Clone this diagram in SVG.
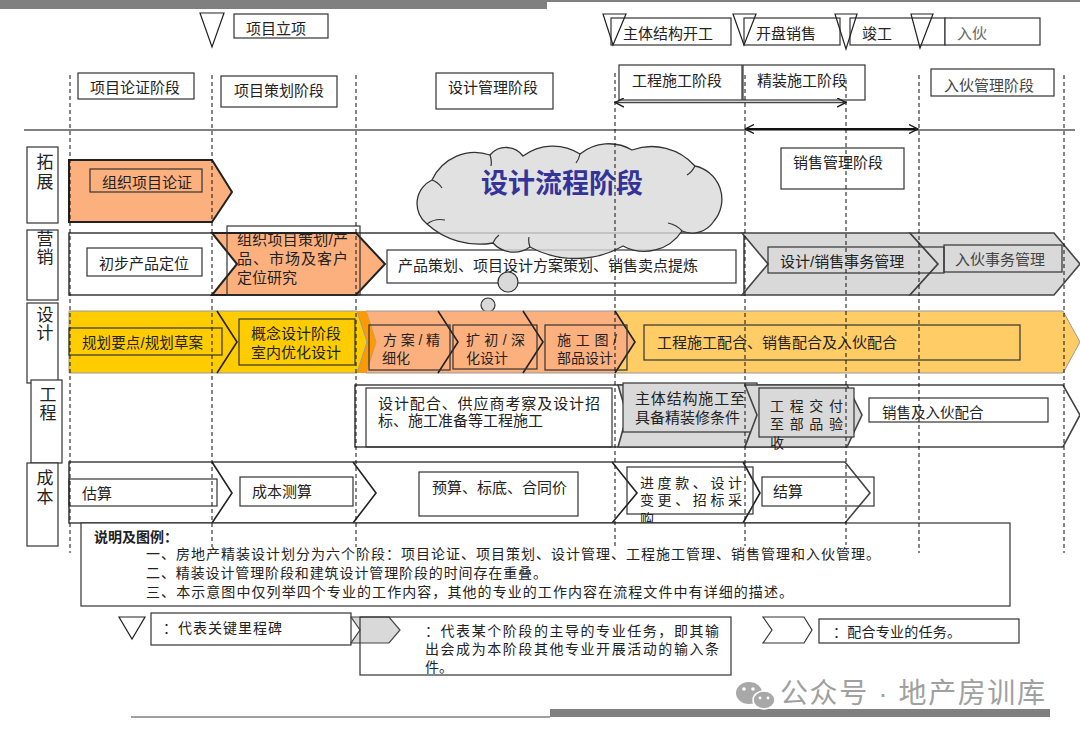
<svg xmlns="http://www.w3.org/2000/svg" width="1080" height="742" viewBox="0 0 1080 742">
<defs>
<style>
text{font-family:"Liberation Sans","Noto Sans CJK SC",sans-serif;font-size:15px;fill:#222}
.s14{font-size:14px}
.box{fill:#fff;stroke:#333;stroke-width:1.2}
.nobox{fill:none;stroke:#333;stroke-width:1.2}
.gbox{fill:#D9D9D9;stroke:#333;stroke-width:1.2}
.tri{fill:none;stroke:#222;stroke-width:1.2}
.dash{stroke:#111;stroke-width:1;stroke-dasharray:4 3;fill:none}
.band{fill:#fff;stroke:#444;stroke-width:1.6}
.div{fill:none;stroke:#222;stroke-width:1.6}
.lab{font-size:17px;text-anchor:middle}
.org{fill:#FCB07E;stroke:#222;stroke-width:2}
.grey{fill:#D9D9D9;stroke:#444;stroke-width:1.6}
</style>
<marker id="ah" viewBox="0 0 10 10" refX="9" refY="5" markerWidth="10" markerHeight="10" orient="auto-start-reverse" markerUnits="userSpaceOnUse"><path d="M0,0.5 L9,5 L0,9.5" fill="none" stroke="#222" stroke-width="1.4"/></marker>
</defs>
<rect width="1080" height="742" fill="#fff"/>
<g id="frame">
<rect x="0" y="0" width="547" height="9" fill="#808080"/>
<rect x="547" y="0" width="533" height="2" fill="#808080"/>
<line x1="131" y1="717" x2="550" y2="717" stroke="#808080" stroke-width="1.5"/>
<rect x="550" y="709" width="500" height="8" fill="#808080"/>
<line x1="24" y1="130" x2="1075" y2="130" stroke="#808080" stroke-width="2"/>
</g>

<g id="milestones">
<g id="m1"><rect class="box" x="234" y="14" width="94" height="24"/><text x="246" y="34">项目立项</text><polygon class="tri" points="200,13 224,13 212,47"/></g>
<g id="m2"><rect class="box" x="611" y="18" width="120" height="27"/><text x="623" y="39">主体结构开工</text><polygon class="tri" points="603,14 626,14 613,45"/></g>
<g id="m3"><rect class="box" x="744" y="18" width="96" height="27"/><text x="756" y="39">开盘销售</text><polygon class="tri" points="733,14 756,14 744,45"/></g>
<g id="m4"><rect class="box" x="850" y="18" width="95" height="27"/><text x="862" y="39">竣工</text><polygon class="tri" points="835,14 857,14 846,49"/></g>
<g id="m5"><rect class="box" x="945" y="18" width="95" height="27"/><text x="957" y="39" style="fill:#666">入伙</text><polygon class="tri" points="911,14 933,14 920,48"/></g>
</g>

<g id="phases">
<g id="p1"><rect class="box" x="78" y="73" width="116" height="26"/><text x="90" y="93">项目论证阶段</text></g>
<g id="p2"><rect class="box" x="221" y="76" width="116" height="31"/><text x="234" y="96">项目策划阶段</text></g>
<g id="p3"><rect class="box" x="436" y="73" width="117" height="36"/><text x="448" y="93">设计管理阶段</text></g>
<g id="p4"><rect class="box" x="619" y="65" width="123" height="35"/><text x="632" y="86">工程施工阶段</text></g>
<g id="p5"><rect class="box" x="743" y="65" width="122" height="35"/><text x="757" y="86">精装施工阶段</text></g>
<g id="p6"><rect class="box" x="931" y="69" width="123" height="27"/><text x="944" y="91" style="fill:#444">入伙管理阶段</text></g>
<g id="p7"><rect class="box" x="781" y="148" width="123" height="41"/><text x="793" y="168">销售管理阶段</text></g>
</g>

<g id="connectors">
<line x1="615" y1="102.5" x2="846" y2="102.5" stroke="#444" stroke-width="1.5" marker-start="url(#ah)" marker-end="url(#ah)"/>
<line x1="745" y1="129" x2="918" y2="129" stroke="#111" stroke-width="2" marker-start="url(#ah)" marker-end="url(#ah)"/>
</g>

<g id="labels">
<g id="l1"><rect class="box" x="27" y="147" width="31" height="76"/><text class="lab" x="45" y="168">拓</text><text class="lab" x="45" y="188">展</text></g>
<g id="l2"><rect class="box" x="27" y="230" width="31" height="70"/><text class="lab" x="45" y="245">营</text><text class="lab" x="45" y="263">销</text></g>
<g id="l3"><rect class="box" x="27" y="303" width="31" height="80"/><text class="lab" x="45" y="321">设</text><text class="lab" x="45" y="339">计</text></g>
<g id="l4"><rect class="box" x="31" y="380" width="31" height="83"/><text class="lab" x="48" y="401">工</text><text class="lab" x="48" y="419">程</text></g>
<g id="l5"><rect class="box" x="27" y="463" width="31" height="83"/><text class="lab" x="45" y="484">成</text><text class="lab" x="45" y="503">本</text></g>
</g>

<g id="row-tuozhan">
<polygon class="org" points="69,160 212,160 232,192 212,222 69,222"/>
<rect class="nobox" x="90" y="169" width="112" height="23"/>
<text x="102" y="187.5">组织项目论证</text>
</g>

<g id="row-yingxiao">
<rect class="band" x="69" y="233" width="675" height="62"/>
<rect class="nobox" x="87" y="248" width="115" height="28"/>
<text x="99" y="268.5">初步产品定位</text>
<polygon class="org" points="212,233 356,233 385,264 356,295 212,295 237,264"/>
<rect class="nobox" x="227" y="226" width="133" height="69"/>
<text x="237" y="245" textLength="111">组织项目策划/产</text>
<text x="237" y="264" textLength="111">品、市场及客户</text>
<text x="237" y="283">定位研究</text>
<rect class="box" x="387" y="250" width="349" height="33"/>
<text x="398" y="270.5">产品策划、项目设计方案策划、销售卖点提炼</text>
<polygon class="grey" points="742,233 910,233 938,264 910,295 742,295 768,264"/>
<polygon class="grey" points="910,233 1054,233 1080,264 1054,295 910,295 938,264"/>
<rect class="nobox" x="768" y="247" width="176" height="26"/>
<text x="780" y="266.5">设计/销售事务管理</text>
<rect class="nobox" x="944" y="245" width="118" height="27"/>
<text x="955" y="264.5" style="fill:#444">入伙事务管理</text>
</g>

<g id="cloud">
<path d="M427,224 A26,26 0 0 1 432,180 A47,47 0 0 1 490,155 A21,21 0 0 1 523,156 A50,50 0 0 1 580,154 A46,46 0 0 1 632,150 A58,58 0 0 1 695,166 A34,34 0 0 1 714,221 A26,26 0 0 1 682,231 A45,45 0 0 1 623,246 A96,96 0 0 1 530,247 A28,28 0 0 1 493,243 A78,78 0 0 1 427,224 Z" fill="#D9D9D9" fill-opacity="0.8" stroke="#333" stroke-width="1.3"/>
<path d="M432,180 q6,2 10,8 M490,155 q2,6 1,11 M580,154 q-1,5 -4,9 M695,166 q-3,6 -8,9 M682,231 q-5,-6 -14,-8 M530,247 q-2,-5 -1,-10 M493,243 q2,-5 6,-8 M427,224 q8,-6 18,-4" fill="none" stroke="#333" stroke-width="1.2"/>
<text x="562" y="193" text-anchor="middle" style="font-size:27px;font-weight:bold;fill:#333399">设计流程阶段</text>
<circle cx="508" cy="282" r="10" fill="#D9D9D9" stroke="#333" stroke-width="1.2"/>
<circle cx="488" cy="305" r="7" fill="#D9D9D9" stroke="#333" stroke-width="1.2"/>
<circle cx="472" cy="325" r="3" fill="#D9D9D9" stroke="#333" stroke-width="1.2"/>
</g>

<g id="row-sheji">
<polygon points="615,311 1063,311 1080,342 1063,373 615,373 635,342" fill="#FFCC66" stroke="#999" stroke-width="1"/>
<polygon points="366,311 615,311 635,342 615,373 366,373 376,342" fill="#FCB07E" stroke="#999" stroke-width="1"/>
<polygon points="357,311 366,311 376,342 366,373 357,373 367,342" fill="#FF9900"/>
<polygon points="69,311 357,311 367,342 357,373 69,373" fill="#FFCC00" stroke="#999" stroke-width="1"/>
<polyline class="div" points="217,311 237,342 217,373"/>
<polyline class="div" points="438,311 458,342 438,373"/>
<polyline class="div" points="523,311 543,342 523,373"/>
<polyline class="div" points="615,311 635,342 615,373"/>
<rect class="nobox" x="69" y="328" width="153" height="27"/>
<text x="82" y="347.5" style="font-size:14.5px" textLength="121">规划要点/规划草案</text>
<rect class="nobox" x="239" y="319" width="116" height="46"/>
<text x="251" y="338.5">概念设计阶段</text>
<text x="251" y="357.5">室内优化设计</text>
<rect class="nobox" x="369" y="325" width="81" height="45"/>
<text class="s14" x="383" y="345" textLength="57">方案/精</text>
<text class="s14" x="382" y="363">细化</text>
<rect class="nobox" x="453" y="325" width="84" height="44"/>
<text class="s14" x="466" y="345" textLength="59">扩初/深</text>
<text class="s14" x="466" y="363">化设计</text>
<rect class="nobox" x="545" y="325" width="82" height="45"/>
<text class="s14" x="557" y="345" textLength="60">施工图/</text>
<text class="s14" x="557" y="363">部品设计</text>
<rect class="nobox" x="644" y="325" width="376" height="35"/>
<text x="657" y="347.5">工程施工配合、销售配合及入伙配合</text>
</g>

<g id="row-gongcheng">
<polygon class="band" points="355,385 1063,385 1080,415 1063,447 355,447"/>
<rect class="nobox" x="366" y="388" width="246" height="59"/>
<text x="378" y="408.5" textLength="222">设计配合、供应商考察及设计招</text>
<text x="378" y="426">标、施工准备等工程施工</text>
<polygon class="grey" points="618,385 745,385 757,415 745,447 618,447 627,415"/>
<rect class="gbox" x="623" y="383" width="134" height="49"/>
<text x="635" y="403.5" textLength="110">主体结构施工至</text>
<text x="635" y="422.5" textLength="105">具备精装修条件</text>
<polygon class="grey" points="745,385 847,385 862,415 847,447 745,447 757,415"/>
<rect class="gbox" x="759" y="388" width="95" height="49"/>
<text class="s14" x="770" y="410.5" textLength="73">工程交付</text>
<text class="s14" x="770" y="428.5" textLength="73">至部品验</text>
<text class="s14" x="770" y="447.5">收</text>
<rect class="nobox" x="869" y="398" width="179" height="24"/>
<text x="882" y="418" style="font-size:14.5px">销售及入伙配合</text>
</g>

<g id="row-chengben">
<polygon class="band" points="69,462 845,462 870,493 845,523 69,523"/>
<polyline class="div" points="212,462 232,493 212,523"/>
<polyline class="div" points="353,462 376,493 353,523"/>
<polyline class="div" points="612,462 637,493 612,523"/>
<polyline class="div" points="743,462 760,493 743,523"/>
<rect class="nobox" x="69" y="479" width="148" height="27"/>
<text x="82" y="498.5">估算</text>
<rect class="nobox" x="240" y="477" width="113" height="29"/>
<text x="252" y="496.5">成本测算</text>
<rect class="nobox" x="419" y="472" width="159" height="44"/>
<text x="432" y="492.5">预算、标底、合同价</text>
<rect class="nobox" x="627" y="467" width="126" height="47"/>
<text class="s14" x="640" y="487.5" textLength="102">进度款、设计</text>
<text class="s14" x="640" y="504.5" textLength="102">变更、招标采</text>
<text class="s14" x="640" y="523.5">购</text>
<rect class="nobox" x="762" y="477" width="112" height="29"/>
<text x="773" y="496.5">结算</text>
</g>

<g id="legend">
<rect class="box" x="81" y="523" width="929" height="83"/>
<text x="94" y="542" style="font-size:14px;font-weight:bold">说明及图例：</text>
<text class="s14" x="146" y="558.5" textLength="734">一、房地产精装设计划分为六个阶段：项目论证、项目策划、设计管理、工程施工管理、销售管理和入伙管理。</text>
<text class="s14" x="146" y="578" textLength="401">二、精装设计管理阶段和建筑设计管理阶段的时间存在重叠。</text>
<text class="s14" x="146" y="596.5" textLength="647">三、本示意图中仅列举四个专业的工作内容，其他的专业的工作内容在流程文件中有详细的描述。</text>
</g>

<g id="key">
<polygon class="tri" points="119,617 145,617 132,639"/>
<rect class="nobox" x="151" y="613" width="200" height="32"/>
<text class="s14" x="163" y="632.5" textLength="119">：代表关键里程碑</text>
<polygon points="351,617 389,617 400,630 389,643 351,643 360,630" fill="#D9D9D9" stroke="#444" stroke-width="1.2"/>
<rect class="nobox" x="360" y="617" width="371" height="58"/>
<text class="s14" x="425" y="635.5" textLength="294">：代表某个阶段的主导的专业任务，即其输</text>
<text class="s14" x="425" y="653.5" textLength="294">出会成为本阶段其他专业开展活动的输入条</text>
<text class="s14" x="425" y="672">件。</text>
<polygon points="763,617 804,617 812,630 804,643 763,643 772,630" fill="#fff" stroke="#333" stroke-width="1.2"/>
<rect class="nobox" x="819" y="619" width="200" height="24"/>
<text class="s14" x="833" y="637" textLength="128">：配合专业的任务。</text>
</g>

<g id="watermark">
<ellipse cx="749" cy="693" rx="13" ry="11" fill="#A8A8A8"/>
<ellipse cx="764" cy="700" rx="11" ry="9" fill="#A8A8A8" stroke="#fff" stroke-width="1.5"/>
<circle cx="744" cy="689" r="1.8" fill="#fff"/>
<circle cx="753" cy="689" r="1.8" fill="#fff"/>
<circle cx="760" cy="698" r="1.4" fill="#fff"/>
<circle cx="768" cy="698" r="1.4" fill="#fff"/>
<text x="780" y="703" textLength="265" style="font-size:28px;fill:#A0A0A0">公众号 · 地产房训库</text>
</g>

<g id="gridlines">
<line class="dash" x1="70" y1="75" x2="70" y2="553"/>
<line class="dash" x1="212" y1="75" x2="212" y2="547"/>
<line class="dash" x1="356" y1="75" x2="356" y2="547"/>
<line class="dash" x1="615" y1="73" x2="615" y2="547"/>
<line class="dash" x1="745" y1="75" x2="745" y2="546"/>
<line class="dash" x1="846" y1="80" x2="846" y2="545"/>
<line class="dash" x1="919" y1="75" x2="919" y2="553"/>
<line class="dash" x1="1064" y1="75" x2="1064" y2="553"/>
</g>
</svg>
